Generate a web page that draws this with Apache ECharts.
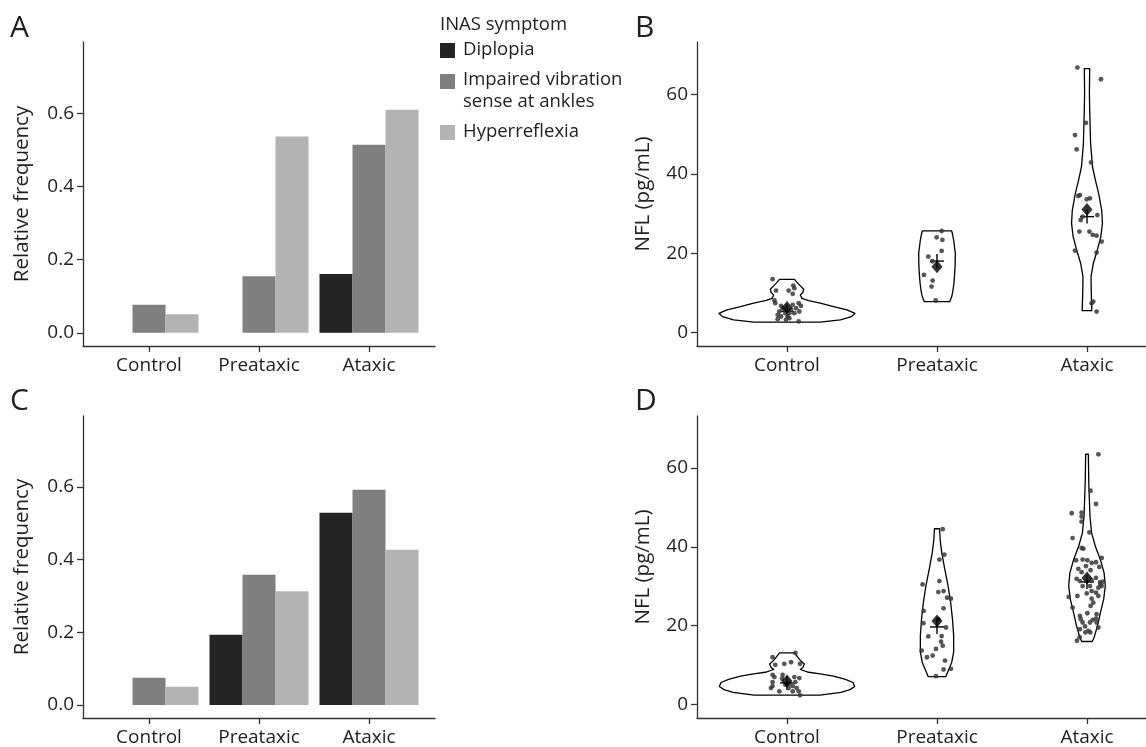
<!DOCTYPE html>
<html><head><meta charset="utf-8">
<script src="https://cdn.jsdelivr.net/npm/echarts@6/dist/echarts.min.js"></script>
<style>html,body{margin:0;padding:0;background:#fff}#c{width:1146px;height:747px}</style>
</head><body><div id="c"></div>
<script>
// ---------- data ----------
const categories = ['Control', 'Preataxic', 'Ataxic'];
const symptoms = ['Diplopia', 'Impaired vibration\nsense at ankles', 'Hyperreflexia'];
const legendTitle = 'INAS symptom';
const freqTicks = [0, 0.2, 0.4, 0.6];
const nflTicks = [0, 20, 40, 60];

// Panel A / C : relative frequency per symptom (Control, Preataxic, Ataxic)
const diplopiaA = [0, 0, 0.161];
const vibrationA = [0.077, 0.155, 0.514];
const hyperA = [0.051, 0.537, 0.61];
const diplopiaC = [0, 0.193, 0.529];
const vibrationC = [0.075, 0.358, 0.592];
const hyperC = [0.05, 0.313, 0.427];

// Panel B violin outlines: y levels and half widths (x units)
const violinBy = [
  [13.4, 12.5, 11.75, 10.9, 10.2, 9.4, 8.6, 8.05, 7.4, 6.5, 5.7, 4.8, 4.0, 3.2, 2.6],
  [25.6, 24.5, 23.3, 20.0, 17.0, 14.9, 12.5, 10.7, 9.0, 7.8],
  [66.5, 60.2, 56, 47.6, 41.7, 38.4, 35.0, 30.8, 27.5, 24.1, 20.8, 17.4, 14.1, 10.7, 5.5]
];
const violinBw = [
  [0.05, 0.07, 0.089, 0.111, 0.107, 0.089, 0.1, 0.144, 0.222, 0.31, 0.40, 0.453, 0.43, 0.356, 0.22],
  [0.098, 0.105, 0.111, 0.122, 0.121, 0.118, 0.113, 0.107, 0.098, 0.085],
  [0.018, 0.016, 0.018, 0.024, 0.037, 0.056, 0.078, 0.098, 0.103, 0.092, 0.069, 0.042, 0.027, 0.028, 0.032]
];
// Panel D violin outlines
const violinDy = [
  [13.1, 12.1, 11.2, 10.3, 9.5, 8.9, 8.2, 7.8, 7.2, 6.4, 5.6, 4.6, 3.8, 3.1, 2.4],
  [44.6, 41.8, 38.5, 34.3, 30.1, 25.9, 21.7, 17.5, 13.3, 10.7, 7.1],
  [63.5, 56.1, 47.7, 43.5, 40.1, 36.8, 33.4, 30.1, 26.7, 23.4, 20.0, 17.1, 16.0]
];
const violinDw = [
  [0.05, 0.07, 0.089, 0.116, 0.107, 0.089, 0.144, 0.222, 0.31, 0.39, 0.44, 0.451, 0.42, 0.36, 0.22],
  [0.017, 0.021, 0.032, 0.052, 0.074, 0.091, 0.103, 0.111, 0.111, 0.098, 0.059],
  [0.009, 0.012, 0.02, 0.031, 0.056, 0.089, 0.114, 0.122, 0.111, 0.09, 0.07, 0.048, 0.035]
];

// Individual NFL values (jitter offset in x units, value in pg/mL)
const ptsBdx = [
  [-0.096, 0.042, 0.049, -0.073, 0.011, 0.038, -0.084, -0.078, 0.078, 0.093, 0.06, 0.038, -0.029, -0.051, -0.062, -0.04, -0.011, 0.016, 0.049, 0.082, -0.007, 0.078, -0.062, 0.016, -0.018, 0.027, -0.04, 0.004],
  [0.031, -0.002, 0.036, 0.031, -0.058, -0.031, -0.087, -0.029, -0.036, -0.009],
  [-0.064, 0.093, -0.007, -0.08, -0.069, 0.027, -0.058, -0.047, -0.002, 0.02, -0.042, -0.029, 0.069, -0.051, 0.016, 0.038, 0.064, 0.098, -0.08, 0.064, 0.042, 0.031, 0.064]
];
const ptsBy = [
  [13.43, 11.83, 11.16, 10.57, 10.57, 9.74, 8.06, 7.39, 7.39, 6.72, 6.13, 6.97, 6.13, 5.29, 4.45, 4.03, 4.87, 4.87, 4.87, 5.29, 3.2, 2.78, 3.36, 3.62, 5.71, 5.71, 6.72, 4.03],
  [25.58, 23.99, 23.32, 20.55, 19.13, 17.95, 14.52, 13.09, 11.58, 8.06],
  [66.76, 63.82, 52.84, 49.74, 46.13, 42.86, 34.39, 34.64, 33.55, 33.8, 28.35, 29.19, 29.6, 25.42, 25.42, 24.58, 24.41, 22.9, 20.64, 20.14, 7.8, 7.38, 5.28]
];
const ptsDdx = [
  [-0.096, 0.056, -0.078, -0.018, 0.027, 0.087, -0.096, -0.084, -0.029, -0.033, 0.049, 0.082, -0.096, -0.107, -0.096, 0.016, 0.038, 0.056, -0.051, 0.011, 0.064, 0.078, 0.087, 0.038, -0.011],
  [0.038, 0.049, 0.016, -0.096, 0.016, 0.009, 0.044, 0.067, 0.093, 0.044, -0.089, -0.091, 0.06, -0.058, 0.031, 0.027, 0.038, -0.007, -0.102, -0.067, -0.029, 0.053, 0.044, 0.093, -0.007, 0.009],
  [0.076, 0.024, 0.06, -0.102, -0.036, -0.036, -0.036, 0.016, -0.096, -0.036, -0.024, -0.073, -0.029, 0.002, 0.031, 0.06, 0.098, -0.007, -0.058, 0.082, 0.024, -0.036, -0.069, 0.06, -0.047, 0.087, 0.031, -0.029, 0.02, 0.076, 0.098, 0.031, 0.06, -0.002, 0.076, -0.064, 0.031, 0.042, 0.024, -0.096, 0.064, 0.002, -0.047, -0.042, -0.029, 0.038, 0.06, 0.02, -0.013, 0.009, 0.064, -0.047, 0.076, -0.067, -0.049, -0.011, 0.022, -0.122, 0.089, 0.107]
];
const ptsDy = [
  [12.01, 13.1, 10.08, 10.33, 10.75, 10.33, 7.56, 6.97, 7.56, 6.55, 6.97, 6.72, 5.71, 4.2, 4.7, 5.29, 4.7, 5.71, 3.36, 4.2, 4.2, 3.36, 2.35, 3.36, 5.04],
  [44.5, 38.04, 36.78, 30.48, 31.32, 28.55, 28.8, 27.12, 26.87, 24.43, 23.76, 20.65, 19.56, 17.3, 17.38, 15.95, 14.95, 14.11, 13.69, 12.01, 12.43, 11.17, 8.9, 9.07, 7.22, 21.66],
  [63.48, 54.24, 50.88, 48.53, 48.7, 47.69, 46.43, 43.66, 42.23, 39.72, 39.55, 36.61, 36.78, 36.61, 35.94, 36.1, 37.2, 35.1, 34.43, 34.93, 34.09, 33.58, 31.91, 32.16, 31.32, 31.07, 31.57, 30.06, 30.06, 29.64, 30.06, 28.8, 28.38, 28.21, 27.54, 27.54, 26.87, 25.86, 25.02, 24.6, 22.92, 23.17, 22.5, 21.66, 20.82, 21.49, 21.83, 20.82, 19.82, 18.72, 20.82, 19.14, 19.56, 16.2, 17.1, 18.3, 18.3, 27.3, 30.4, 31.2]
];
const meanB = [6.3, 16.6, 31.0];
const medianB = [5.3, 18.0, 29.2];
const meanD = [6.0, 21.2, 32.1];
const medianD = [5.5, 19.7, 31.1];

// ---------- styling ----------
const FONT = 'Open Sans';
const symptomColors = ['#252525', '#7f7f7f', '#b3b3b3'];
const axisColor = '#333';
const textColor = '#1f1f1f';

const grids = [
  { left: 83, top: 42, width: 352, height: 304 },    // A
  { left: 697, top: 42, width: 449, height: 304 },   // B (panel runs off the right edge)
  { left: 83, top: 416, width: 352, height: 304 },   // C
  { left: 697, top: 416, width: 449, height: 304 }   // D
];

function xAxisCfg(gi, xmax) {
  return {
    type: 'value', gridIndex: gi, min: 0.4, max: xmax,
    splitLine: { show: false },
    axisLine: { show: true, onZero: false, lineStyle: { color: axisColor, width: 1.3 } },
    axisTick: { show: true, customValues: [1, 2, 3], length: 6, lineStyle: { color: axisColor, width: 1.3 } },
    axisLabel: { customValues: [1, 2, 3], formatter: v => categories[Math.round(v) - 1], color: textColor, fontSize: 19, fontFamily: FONT, margin: 10 }
  };
}
function yAxisCfg(gi, freq) {
  return {
    type: 'value', gridIndex: gi,
    min: freq ? -0.036 : -3.4, max: freq ? 0.795 : 73.2,
    name: freq ? 'Relative frequency' : 'NFL (pg/mL)',
    nameLocation: 'middle', nameGap: freq ? 50 : 43,
    nameTextStyle: { fontSize: 20.5, fontFamily: FONT, color: textColor },
    splitLine: { show: false },
    axisLine: { show: true, onZero: false, lineStyle: { color: axisColor, width: 1.3 } },
    axisTick: { show: true, customValues: freq ? freqTicks : nflTicks, length: 6, lineStyle: { color: axisColor, width: 1.3 } },
    axisLabel: { customValues: freq ? freqTicks : nflTicks, formatter: v => freq ? v.toFixed(1) : String(v), color: textColor, fontSize: 19, fontFamily: FONT, margin: 9 }
  };
}

function barSeries(values, s, gi) {
  return {
    type: 'custom', xAxisIndex: gi, yAxisIndex: gi, name: symptoms[s],
    data: values.map((v, i) => [i + 1, v]),
    renderItem: (params, api) => {
      const cat = api.value(0), v = api.value(1);
      if (!v) return null;
      const x0 = cat + (s - 1) * 0.3 - 0.15, x1 = x0 + 0.3;
      const p0 = api.coord([x0, v]), p1 = api.coord([x1, 0]);
      return { type: 'rect', shape: { x: p0[0], y: p0[1], width: p1[0] - p0[0], height: p1[1] - p0[1] }, style: { fill: symptomColors[s] } };
    }
  };
}

function violinSeries(ysArr, wsArr, gi) {
  return {
    type: 'custom', xAxisIndex: gi, yAxisIndex: gi,
    data: ysArr.map((ys, g) => [g + 1, ys[0]]),
    renderItem: (params, api) => {
      const g = params.dataIndex, c = g + 1;
      const ys = ysArr[g], ws = wsArr[g];
      const pts = [];
      for (let i = 0; i < ys.length; i++) pts.push(api.coord([c - ws[i], ys[i]]));
      for (let i = ys.length - 1; i >= 0; i--) pts.push(api.coord([c + ws[i], ys[i]]));
      return { type: 'polygon', shape: { points: pts }, style: { fill: '#fff', stroke: '#000', lineWidth: 1.3, lineJoin: 'round' } };
    }
  };
}

function pointSeries(dxArr, yArr, gi) {
  const data = [];
  dxArr.forEach((dxs, g) => dxs.forEach((dx, i) => data.push([g + 1 + dx, yArr[g][i]])));
  return {
    type: 'scatter', xAxisIndex: gi, yAxisIndex: gi, data,
    symbolSize: 4.8, itemStyle: { color: '#383838', opacity: 0.85 }, silent: true
  };
}

function crossSeries(vals, gi) {
  return {
    type: 'custom', xAxisIndex: gi, yAxisIndex: gi,
    data: vals.map((v, g) => [g + 1, v]),
    renderItem: (params, api) => {
      const p = api.coord([api.value(0), api.value(1)]);
      const h = 7;
      return {
        type: 'group', children: [
          { type: 'line', shape: { x1: p[0] - h, y1: p[1], x2: p[0] + h, y2: p[1] }, style: { stroke: '#000', lineWidth: 1.4 } },
          { type: 'line', shape: { x1: p[0], y1: p[1] - h, x2: p[0], y2: p[1] + h }, style: { stroke: '#000', lineWidth: 1.4 } }
        ]
      };
    }
  };
}

function meanSeries(vals, gi) {
  return {
    type: 'scatter', xAxisIndex: gi, yAxisIndex: gi,
    data: vals.map((v, g) => [g + 1, v]),
    symbol: 'diamond', symbolSize: [11, 13], itemStyle: { color: '#000' }, z: 5
  };
}

const txt = (t, x, y, size, extra) => ({
  type: 'text', x, y, silent: true,
  style: Object.assign({ text: t, fontSize: size, fontFamily: FONT, fill: textColor, verticalAlign: 'middle', textAlign: 'left' }, extra || {})
});

const graphics = [
  txt('A', 10, 28, 30), txt('B', 635, 28, 30), txt('C', 10, 401, 30), txt('D', 635, 401, 30),
  txt(legendTitle, 440, 25, 18.5),
  { type: 'rect', shape: { x: 440, y: 43, width: 15, height: 15 }, style: { fill: symptomColors[0] } },
  { type: 'rect', shape: { x: 440, y: 74, width: 15, height: 15 }, style: { fill: symptomColors[1] } },
  { type: 'rect', shape: { x: 440, y: 125, width: 15, height: 15 }, style: { fill: symptomColors[2] } },
  txt(symptoms[0], 463, 50, 18.5),
  txt(symptoms[1], 463, 91, 18.5, { lineHeight: 22 }),
  txt(symptoms[2], 463, 132, 18.5)
];

// B/D: 150 px per category unit, right part cut by the image edge
const xmaxNFL = 0.4 + 449 / 150;

const option = {
  backgroundColor: '#fff',
  animation: false,
  grid: grids,
  xAxis: [xAxisCfg(0, 3.6), xAxisCfg(1, xmaxNFL), xAxisCfg(2, 3.6), xAxisCfg(3, xmaxNFL)],
  yAxis: [yAxisCfg(0, true), yAxisCfg(1, false), yAxisCfg(2, true), yAxisCfg(3, false)],
  graphic: graphics,
  series: [
    barSeries(diplopiaA, 0, 0), barSeries(vibrationA, 1, 0), barSeries(hyperA, 2, 0),
    barSeries(diplopiaC, 0, 2), barSeries(vibrationC, 1, 2), barSeries(hyperC, 2, 2),
    violinSeries(violinBy, violinBw, 1), pointSeries(ptsBdx, ptsBy, 1), crossSeries(medianB, 1), meanSeries(meanB, 1),
    violinSeries(violinDy, violinDw, 3), pointSeries(ptsDdx, ptsDy, 3), crossSeries(medianD, 3), meanSeries(meanD, 3)
  ]
};

const chart = echarts.init(document.getElementById('c'), null, { renderer: 'canvas' });
chart.setOption(option);
</script>
</body></html>
